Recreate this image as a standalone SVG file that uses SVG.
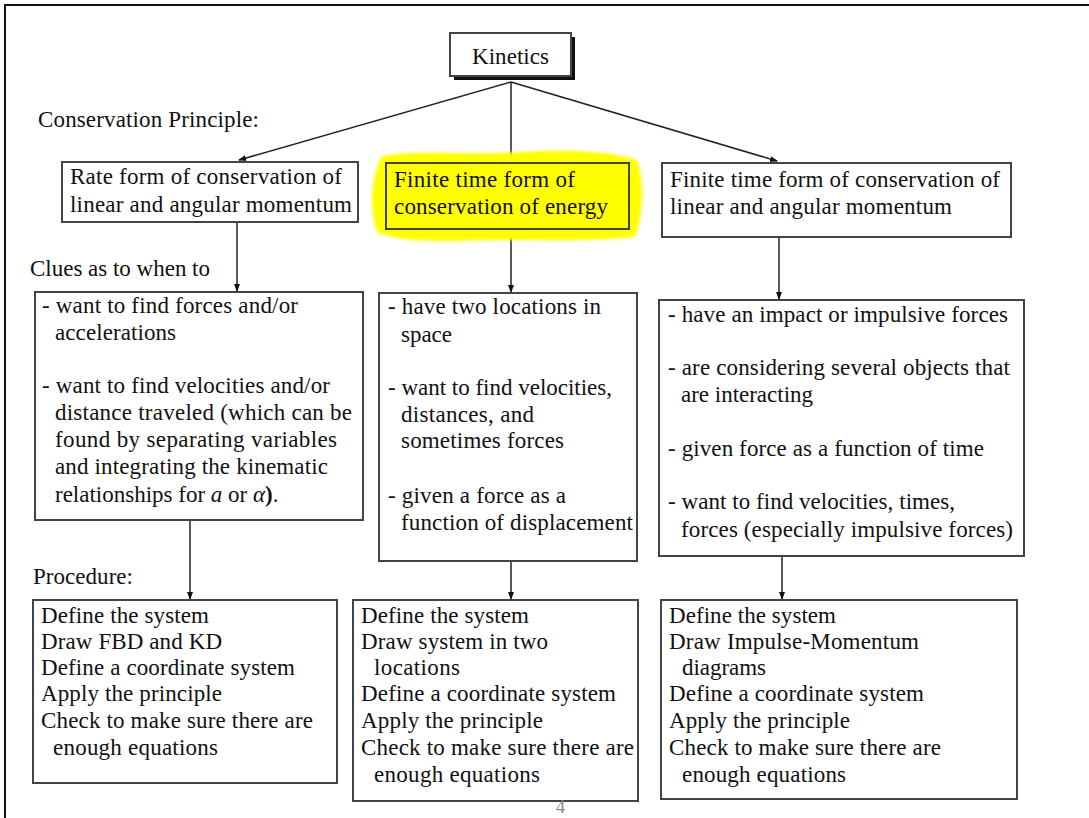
<svg xmlns="http://www.w3.org/2000/svg" width="1089" height="818" viewBox="0 0 1089 818">
<style>
text { font-family: "Liberation Serif", "Times New Roman", serif; font-size: 23px; fill: #111; }
.box { fill: #fff; stroke: #444; stroke-width: 2; }
.edge { stroke: #222; stroke-width: 1.5; fill: none; marker-end: url(#ah); }
.frame { stroke: #111; stroke-width: 2; fill: none; }
</style>
<defs>
<marker id="ah" markerWidth="8" markerHeight="12" refX="7" refY="4" orient="auto" markerUnits="userSpaceOnUse" viewBox="0 0 8 8">
<path d="M0,1 L8,4 L0,7 z" fill="#111"/>
</marker>
<filter id="soft" x="-10%" y="-20%" width="120%" height="140%"><feGaussianBlur stdDeviation="1.5"/></filter>
</defs>
<rect width="1089" height="818" fill="#fff"/>
<path class="frame" d="M5,818 L5,5 L1089,5"/>

<g id="connectors">
<line class="edge" x1="511" y1="82" x2="239" y2="160"/>
<line class="edge" x1="511" y1="82" x2="511" y2="162"/>
<line class="edge" x1="511" y1="82" x2="777" y2="161"/>
<line class="edge" x1="237" y1="222" x2="237" y2="291"/>
<line class="edge" x1="511" y1="229" x2="511" y2="292"/>
<line class="edge" x1="779" y1="237" x2="779" y2="299"/>
<line class="edge" x1="190" y1="520" x2="190" y2="599"/>
<line class="edge" x1="511" y1="561" x2="511" y2="599"/>
<line class="edge" x1="782" y1="556" x2="782" y2="599"/>
</g>

<g id="kinetics">
<rect x="454" y="37" width="121" height="43" fill="#111"/>
<rect class="box" x="450" y="33" width="121" height="43"/>
<text x="472" y="64" textLength="77" lengthAdjust="spacing">Kinetics</text>
</g>

<text id="label-conservation" x="38" y="127" textLength="221" lengthAdjust="spacing">Conservation Principle:</text>
<text id="label-clues" x="30" y="276" textLength="180" lengthAdjust="spacing">Clues as to when to</text>
<text id="label-procedure" x="33" y="584" textLength="100" lengthAdjust="spacing">Procedure:</text>

<g id="rate-form">
<rect class="box" x="62" y="162" width="296" height="60"/>
<text x="70" y="184" textLength="272" lengthAdjust="spacing">Rate form of conservation of</text>
<text x="70" y="212" textLength="282" lengthAdjust="spacing">linear and angular momentum</text>
</g>

<g id="energy-form">
<path d="M382,156 C420,149 470,156 520,152 C570,149 612,151 637,160 C645,182 643,216 635,237 C580,243 520,238 460,241 C420,242 392,239 377,232 C369,208 371,176 382,156 Z" fill="#ffff00" filter="url(#soft)"/>
<rect x="386" y="163" width="243" height="66" fill="none" stroke="#444" stroke-width="2"/>
<text x="394" y="187" textLength="181" lengthAdjust="spacing">Finite time form of</text>
<text x="394" y="214" textLength="214" lengthAdjust="spacing">conservation of energy</text>
</g>

<g id="impulse-form">
<rect class="box" x="662" y="163" width="349" height="74"/>
<text x="670" y="187" textLength="330" lengthAdjust="spacing">Finite time form of conservation of</text>
<text x="670" y="214" textLength="282" lengthAdjust="spacing">linear and angular momentum</text>
</g>

<g id="clues-rate">
<rect class="box" x="35" y="292" width="328" height="228"/>
<text x="42" y="313" textLength="256" lengthAdjust="spacing">- want to find forces and/or</text>
<text x="55" y="340" textLength="121" lengthAdjust="spacing">accelerations</text>
<text x="42" y="393" textLength="288" lengthAdjust="spacing">- want to find velocities and/or</text>
<text x="55" y="420" textLength="297" lengthAdjust="spacing">distance traveled (which can be</text>
<text x="55" y="447" textLength="282" lengthAdjust="spacing">found by separating variables</text>
<text x="55" y="474" textLength="273" lengthAdjust="spacing">and integrating the kinematic</text>
<text x="55" y="502">relationships for <tspan font-style="italic">a</tspan> or <tspan font-style="italic">α</tspan><tspan font-weight="bold">)</tspan>.</text>
</g>

<g id="clues-energy">
<rect class="box" x="379" y="293" width="258" height="268"/>
<text x="388" y="314" textLength="213" lengthAdjust="spacing">- have two locations in</text>
<text x="401" y="342" textLength="51" lengthAdjust="spacing">space</text>
<text x="388" y="395" textLength="224" lengthAdjust="spacing">- want to find velocities,</text>
<text x="401" y="422" textLength="133" lengthAdjust="spacing">distances, and</text>
<text x="401" y="448" textLength="163" lengthAdjust="spacing">sometimes forces</text>
<text x="388" y="503" textLength="178" lengthAdjust="spacing">- given a force as a</text>
<text x="401" y="530" textLength="232" lengthAdjust="spacing">function of displacement</text>
</g>

<g id="clues-impulse">
<rect class="box" x="659" y="300" width="365" height="256"/>
<text x="668" y="322" textLength="340" lengthAdjust="spacing">- have an impact or impulsive forces</text>
<text x="668" y="375" textLength="342" lengthAdjust="spacing">- are considering several objects that</text>
<text x="681" y="402" textLength="132" lengthAdjust="spacing">are interacting</text>
<text x="668" y="456" textLength="316" lengthAdjust="spacing">- given force as a function of time</text>
<text x="668" y="509" textLength="287" lengthAdjust="spacing">- want to find velocities, times,</text>
<text x="681" y="537" textLength="332" lengthAdjust="spacing">forces (especially impulsive forces)</text>
</g>

<g id="procedure-rate">
<rect class="box" x="33" y="600" width="304" height="183"/>
<text x="41" y="623" textLength="168" lengthAdjust="spacing">Define the system</text>
<text x="41" y="649" textLength="181" lengthAdjust="spacing">Draw FBD and KD</text>
<text x="41" y="675" textLength="254" lengthAdjust="spacing">Define a coordinate system</text>
<text x="41" y="701" textLength="181" lengthAdjust="spacing">Apply the principle</text>
<text x="41" y="728" textLength="272" lengthAdjust="spacing">Check to make sure there are</text>
<text x="53" y="755" textLength="165" lengthAdjust="spacing">enough equations</text>
</g>

<g id="procedure-energy">
<rect class="box" x="353" y="600" width="285" height="201"/>
<text x="361" y="623" textLength="168" lengthAdjust="spacing">Define the system</text>
<text x="361" y="649" textLength="187" lengthAdjust="spacing">Draw system in two</text>
<text x="374" y="675" textLength="86" lengthAdjust="spacing">locations</text>
<text x="361" y="701" textLength="255" lengthAdjust="spacing">Define a coordinate system</text>
<text x="361" y="728" textLength="182" lengthAdjust="spacing">Apply the principle</text>
<text x="361" y="755" textLength="273" lengthAdjust="spacing">Check to make sure there are</text>
<text x="374" y="782" textLength="166" lengthAdjust="spacing">enough equations</text>
</g>

<g id="procedure-impulse">
<rect class="box" x="661" y="600" width="356" height="199"/>
<text x="669" y="623" textLength="167" lengthAdjust="spacing">Define the system</text>
<text x="669" y="649" textLength="250" lengthAdjust="spacing">Draw Impulse-Momentum</text>
<text x="682" y="675" textLength="84" lengthAdjust="spacing">diagrams</text>
<text x="669" y="701" textLength="255" lengthAdjust="spacing">Define a coordinate system</text>
<text x="669" y="728" textLength="181" lengthAdjust="spacing">Apply the principle</text>
<text x="669" y="755" textLength="272" lengthAdjust="spacing">Check to make sure there are</text>
<text x="682" y="782" textLength="164" lengthAdjust="spacing">enough equations</text>
</g>

<text id="page-number" x="556" y="813" style="fill:#888;font-size:18px">4</text>
</svg>
